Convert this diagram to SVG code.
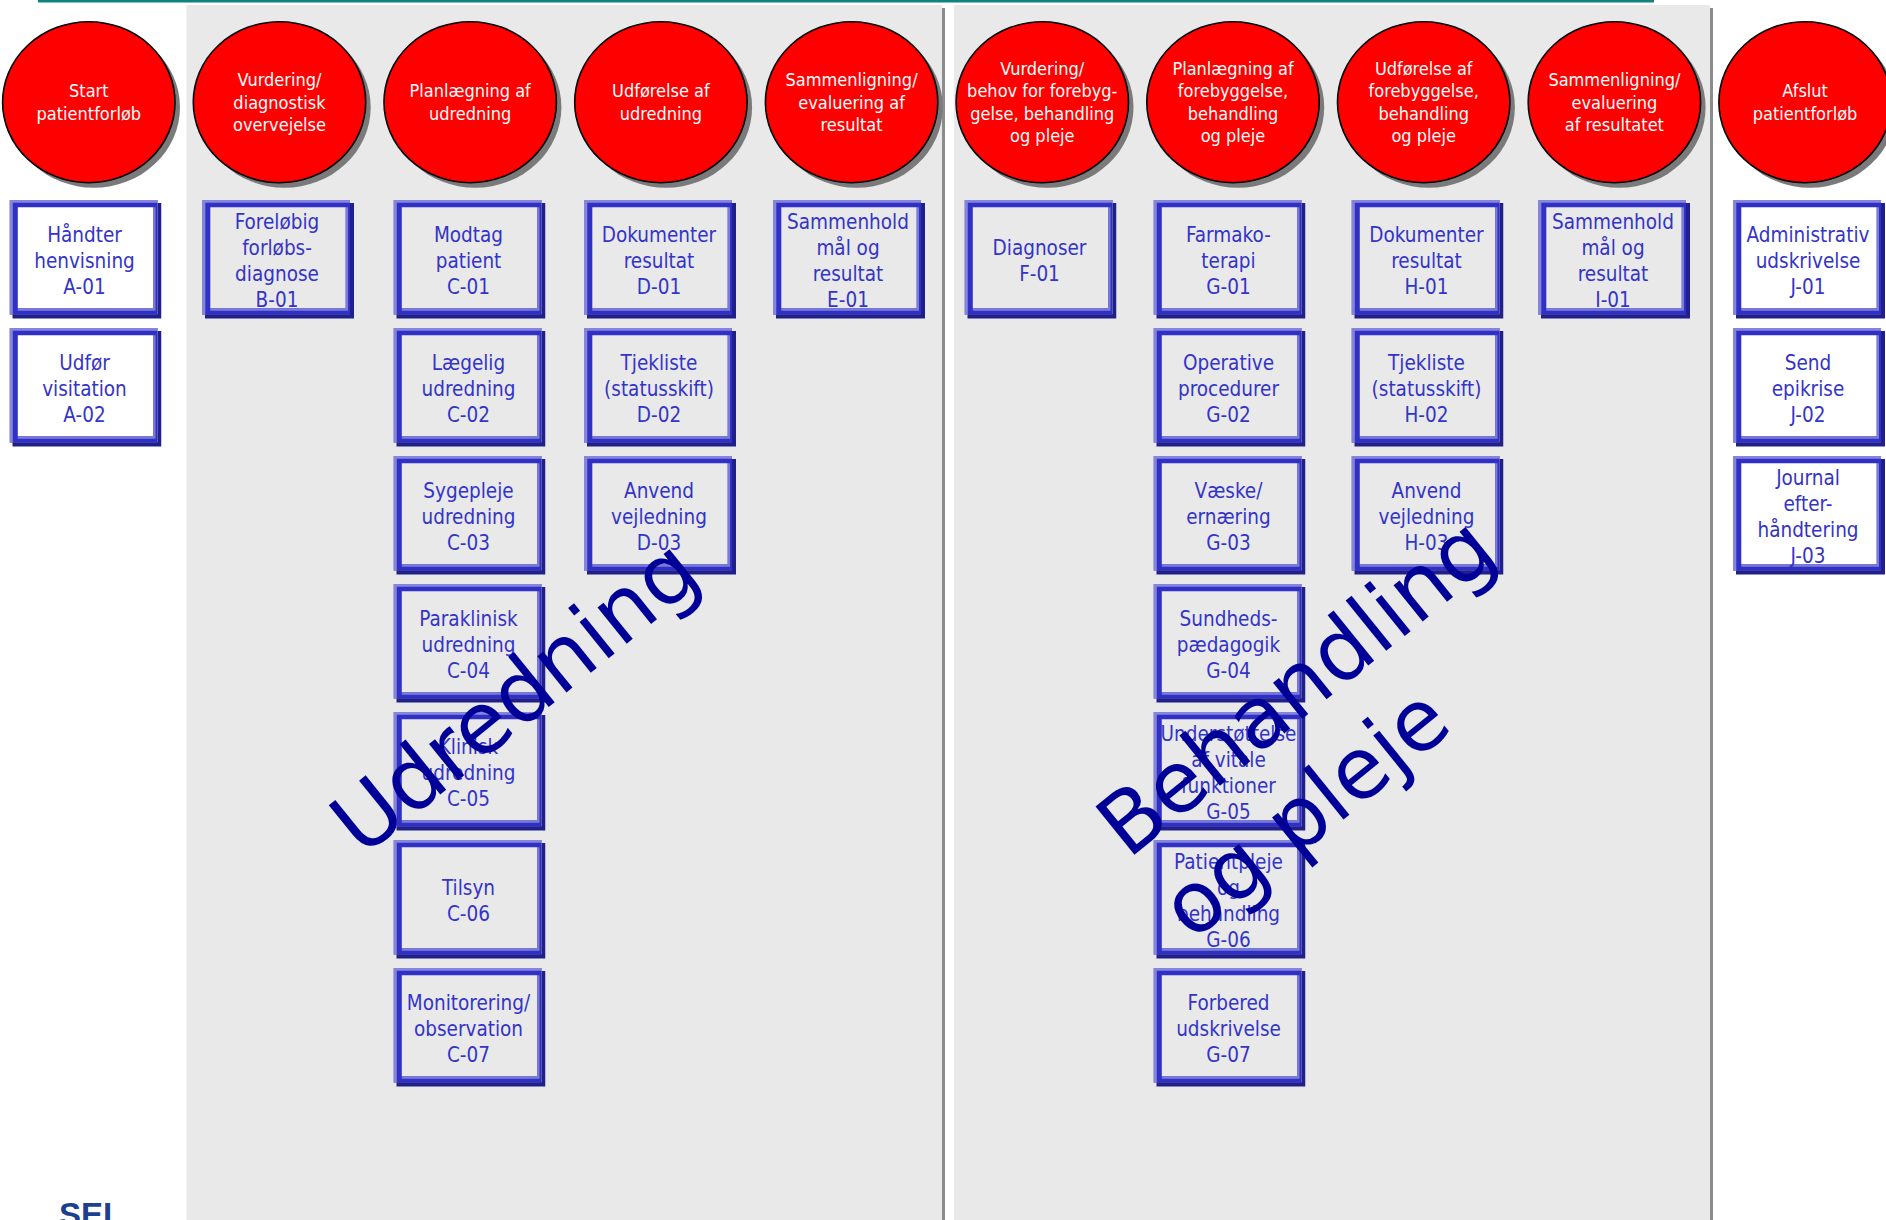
<svg xmlns="http://www.w3.org/2000/svg" xmlns:xlink="http://www.w3.org/1999/xlink" width="1886" height="1220" viewBox="0 0 1886 1220">
<style>
.panel{fill:#e9e9e9}
.pshadow{fill:#8c8c8c}
.circ{fill:#ff0000;stroke:#000;stroke-width:1.6}
.cshadow{fill:#7a7a7a}
.ct{font-family:"DejaVu Sans Condensed","Liberation Sans",sans-serif;font-size:18px;fill:#fff;text-anchor:middle}
.bt{font-family:"DejaVu Sans Condensed","Liberation Sans",sans-serif;font-size:20.5px;fill:#3434c8;text-anchor:middle}
.big{font-family:"DejaVu Sans",sans-serif;font-size:85px;fill:#000099}
.sei{font-family:"Liberation Sans",Arial,sans-serif;font-weight:bold;font-size:33px;fill:#1c3f8f}
</style>
<defs>
<symbol id="frame" viewBox="0 0 152 119" width="152" height="119">
<path d="M0,0H148V114.5H0Z M8.3,7.3V108.3H143.7V7.3Z" fill="#3030c6" fill-rule="evenodd"/>
<path d="M148,3H152V118.5H3V114.3H148Z" fill="#20208c"/>
<path d="M0,0H148V2.7H3.3V114.5H0Z" fill="#8585da"/>
<path d="M143.7,7.3H146V110.7H8.3V108.3H143.7Z" fill="#7c7cd8"/>
</symbol>
</defs>
<rect width="1886" height="1220" fill="#fff"/>
<rect x="38" y="0" width="1616" height="2.5" fill="#11837f"/>
<g id="panel-udredning">
<rect class="pshadow" x="189.5" y="8" width="755.5" height="1230"/>
<rect class="panel" x="186.5" y="5" width="755.5" height="1230"/>
</g>
<g id="panel-behandling">
<rect class="pshadow" x="957" y="8" width="756" height="1230"/>
<rect class="panel" x="954" y="5" width="756" height="1230"/>
</g>
<g id="connectors"></g>

<g id="phase-1">
<ellipse class="cshadow" cx="93.8" cy="107.2" rx="86.2" ry="80.5"/>
<ellipse class="circ" cx="88.8" cy="102.2" rx="86.2" ry="80.5"/>
<text class="ct"><tspan x="88.8" y="97.45">Start</tspan><tspan x="88.8" y="119.95">patientforløb</tspan></text>
</g>
<g id="phase-2">
<ellipse class="cshadow" cx="284.5" cy="107.2" rx="86.2" ry="80.5"/>
<ellipse class="circ" cx="279.5" cy="102.2" rx="86.2" ry="80.5"/>
<text class="ct"><tspan x="279.5" y="86.2">Vurdering/</tspan><tspan x="279.5" y="108.7">diagnostisk</tspan><tspan x="279.5" y="131.2">overvejelse</tspan></text>
</g>
<g id="phase-3">
<ellipse class="cshadow" cx="475.2" cy="107.2" rx="86.2" ry="80.5"/>
<ellipse class="circ" cx="470.2" cy="102.2" rx="86.2" ry="80.5"/>
<text class="ct"><tspan x="470.2" y="97.45">Planlægning af</tspan><tspan x="470.2" y="119.95">udredning</tspan></text>
</g>
<g id="phase-4">
<ellipse class="cshadow" cx="665.9" cy="107.2" rx="86.2" ry="80.5"/>
<ellipse class="circ" cx="660.9" cy="102.2" rx="86.2" ry="80.5"/>
<text class="ct"><tspan x="660.9" y="97.45">Udførelse af</tspan><tspan x="660.9" y="119.95">udredning</tspan></text>
</g>
<g id="phase-5">
<ellipse class="cshadow" cx="856.6" cy="107.2" rx="86.2" ry="80.5"/>
<ellipse class="circ" cx="851.6" cy="102.2" rx="86.2" ry="80.5"/>
<text class="ct"><tspan x="851.6" y="86.2">Sammenligning/</tspan><tspan x="851.6" y="108.7">evaluering af</tspan><tspan x="851.6" y="131.2">resultat</tspan></text>
</g>
<g id="phase-6">
<ellipse class="cshadow" cx="1047.3" cy="107.2" rx="86.2" ry="80.5"/>
<ellipse class="circ" cx="1042.3" cy="102.2" rx="86.2" ry="80.5"/>
<text class="ct"><tspan x="1042.3" y="74.95">Vurdering/</tspan><tspan x="1042.3" y="97.45">behov for forebyg-</tspan><tspan x="1042.3" y="119.95">gelse, behandling</tspan><tspan x="1042.3" y="142.45">og pleje</tspan></text>
</g>
<g id="phase-7">
<ellipse class="cshadow" cx="1238" cy="107.2" rx="86.2" ry="80.5"/>
<ellipse class="circ" cx="1233" cy="102.2" rx="86.2" ry="80.5"/>
<text class="ct"><tspan x="1233" y="74.95">Planlægning af</tspan><tspan x="1233" y="97.45">forebyggelse,</tspan><tspan x="1233" y="119.95">behandling</tspan><tspan x="1233" y="142.45">og pleje</tspan></text>
</g>
<g id="phase-8">
<ellipse class="cshadow" cx="1428.7" cy="107.2" rx="86.2" ry="80.5"/>
<ellipse class="circ" cx="1423.7" cy="102.2" rx="86.2" ry="80.5"/>
<text class="ct"><tspan x="1423.7" y="74.95">Udførelse af</tspan><tspan x="1423.7" y="97.45">forebyggelse,</tspan><tspan x="1423.7" y="119.95">behandling</tspan><tspan x="1423.7" y="142.45">og pleje</tspan></text>
</g>
<g id="phase-9">
<ellipse class="cshadow" cx="1619.4" cy="107.2" rx="86.2" ry="80.5"/>
<ellipse class="circ" cx="1614.4" cy="102.2" rx="86.2" ry="80.5"/>
<text class="ct"><tspan x="1614.4" y="86.2">Sammenligning/</tspan><tspan x="1614.4" y="108.7">evaluering</tspan><tspan x="1614.4" y="131.2">af resultatet</tspan></text>
</g>
<g id="phase-10">
<ellipse class="cshadow" cx="1810.1" cy="107.2" rx="86.2" ry="80.5"/>
<ellipse class="circ" cx="1805.1" cy="102.2" rx="86.2" ry="80.5"/>
<text class="ct"><tspan x="1805.1" y="97.45">Afslut</tspan><tspan x="1805.1" y="119.95">patientforløb</tspan></text>
</g>

<g id="A-01"><use xlink:href="#frame" x="9.5" y="200"/><text class="bt"><tspan x="84.5" y="242.3">Håndter</tspan><tspan x="84.5" y="268">henvisning</tspan><tspan x="84.5" y="293.7">A-01</tspan></text></g>
<g id="A-02"><use xlink:href="#frame" x="9.5" y="328"/><text class="bt"><tspan x="84.5" y="370.3">Udfør</tspan><tspan x="84.5" y="396">visitation</tspan><tspan x="84.5" y="421.7">A-02</tspan></text></g>
<g id="B-01"><use xlink:href="#frame" x="202" y="200"/><text class="bt"><tspan x="277" y="229.45">Foreløbig</tspan><tspan x="277" y="255.15">forløbs-</tspan><tspan x="277" y="280.85">diagnose</tspan><tspan x="277" y="306.55">B-01</tspan></text></g>

<g id="C-01"><use xlink:href="#frame" x="393.5" y="200"/><text class="bt"><tspan x="468.5" y="242.3">Modtag</tspan><tspan x="468.5" y="268">patient</tspan><tspan x="468.5" y="293.7">C-01</tspan></text></g>
<g id="C-02"><use xlink:href="#frame" x="393.5" y="328"/><text class="bt"><tspan x="468.5" y="370.3">Lægelig</tspan><tspan x="468.5" y="396">udredning</tspan><tspan x="468.5" y="421.7">C-02</tspan></text></g>
<g id="C-03"><use xlink:href="#frame" x="393.5" y="456"/><text class="bt"><tspan x="468.5" y="498.3">Sygepleje</tspan><tspan x="468.5" y="524">udredning</tspan><tspan x="468.5" y="549.7">C-03</tspan></text></g>
<g id="C-04"><use xlink:href="#frame" x="393.5" y="584"/><text class="bt"><tspan x="468.5" y="626.3">Paraklinisk</tspan><tspan x="468.5" y="652">udredning</tspan><tspan x="468.5" y="677.7">C-04</tspan></text></g>
<g id="C-05"><use xlink:href="#frame" x="393.5" y="712"/><text class="bt"><tspan x="468.5" y="754.3">Klinisk</tspan><tspan x="468.5" y="780">udredning</tspan><tspan x="468.5" y="805.7">C-05</tspan></text></g>
<g id="C-06"><use xlink:href="#frame" x="393.5" y="840"/><text class="bt"><tspan x="468.5" y="895.15">Tilsyn</tspan><tspan x="468.5" y="920.85">C-06</tspan></text></g>
<g id="C-07"><use xlink:href="#frame" x="393.5" y="968"/><text class="bt"><tspan x="468.5" y="1010.3">Monitorering/</tspan><tspan x="468.5" y="1036">observation</tspan><tspan x="468.5" y="1061.7">C-07</tspan></text></g>

<g id="D-01"><use xlink:href="#frame" x="584" y="200"/><text class="bt"><tspan x="659" y="242.3">Dokumenter</tspan><tspan x="659" y="268">resultat</tspan><tspan x="659" y="293.7">D-01</tspan></text></g>
<g id="D-02"><use xlink:href="#frame" x="584" y="328"/><text class="bt"><tspan x="659" y="370.3">Tjekliste</tspan><tspan x="659" y="396">(statusskift)</tspan><tspan x="659" y="421.7">D-02</tspan></text></g>
<g id="D-03"><use xlink:href="#frame" x="584" y="456"/><text class="bt"><tspan x="659" y="498.3">Anvend</tspan><tspan x="659" y="524">vejledning</tspan><tspan x="659" y="549.7">D-03</tspan></text></g>

<g id="E-01"><use xlink:href="#frame" x="773" y="200"/><text class="bt"><tspan x="848" y="229.45">Sammenhold</tspan><tspan x="848" y="255.15">mål og</tspan><tspan x="848" y="280.85">resultat</tspan><tspan x="848" y="306.55">E-01</tspan></text></g>

<g id="F-01"><use xlink:href="#frame" x="964.5" y="200"/><text class="bt"><tspan x="1039.5" y="255.15">Diagnoser</tspan><tspan x="1039.5" y="280.85">F-01</tspan></text></g>

<g id="G-01"><use xlink:href="#frame" x="1153.5" y="200"/><text class="bt"><tspan x="1228.5" y="242.3">Farmako-</tspan><tspan x="1228.5" y="268">terapi</tspan><tspan x="1228.5" y="293.7">G-01</tspan></text></g>
<g id="G-02"><use xlink:href="#frame" x="1153.5" y="328"/><text class="bt"><tspan x="1228.5" y="370.3">Operative</tspan><tspan x="1228.5" y="396">procedurer</tspan><tspan x="1228.5" y="421.7">G-02</tspan></text></g>
<g id="G-03"><use xlink:href="#frame" x="1153.5" y="456"/><text class="bt"><tspan x="1228.5" y="498.3">Væske/</tspan><tspan x="1228.5" y="524">ernæring</tspan><tspan x="1228.5" y="549.7">G-03</tspan></text></g>
<g id="G-04"><use xlink:href="#frame" x="1153.5" y="584"/><text class="bt"><tspan x="1228.5" y="626.3">Sundheds-</tspan><tspan x="1228.5" y="652">pædagogik</tspan><tspan x="1228.5" y="677.7">G-04</tspan></text></g>
<g id="G-05"><use xlink:href="#frame" x="1153.5" y="712"/><text class="bt"><tspan x="1228.5" y="741.45">Understøttelse</tspan><tspan x="1228.5" y="767.15">af vitale</tspan><tspan x="1228.5" y="792.85">funktioner</tspan><tspan x="1228.5" y="818.55">G-05</tspan></text></g>
<g id="G-06"><use xlink:href="#frame" x="1153.5" y="840"/><text class="bt"><tspan x="1228.5" y="869.45">Patientpleje</tspan><tspan x="1228.5" y="895.15">og</tspan><tspan x="1228.5" y="920.85">behandling</tspan><tspan x="1228.5" y="946.55">G-06</tspan></text></g>
<g id="G-07"><use xlink:href="#frame" x="1153.5" y="968"/><text class="bt"><tspan x="1228.5" y="1010.3">Forbered</tspan><tspan x="1228.5" y="1036">udskrivelse</tspan><tspan x="1228.5" y="1061.7">G-07</tspan></text></g>

<g id="H-01"><use xlink:href="#frame" x="1351.5" y="200"/><text class="bt"><tspan x="1426.5" y="242.3">Dokumenter</tspan><tspan x="1426.5" y="268">resultat</tspan><tspan x="1426.5" y="293.7">H-01</tspan></text></g>
<g id="H-02"><use xlink:href="#frame" x="1351.5" y="328"/><text class="bt"><tspan x="1426.5" y="370.3">Tjekliste</tspan><tspan x="1426.5" y="396">(statusskift)</tspan><tspan x="1426.5" y="421.7">H-02</tspan></text></g>
<g id="H-03"><use xlink:href="#frame" x="1351.5" y="456"/><text class="bt"><tspan x="1426.5" y="498.3">Anvend</tspan><tspan x="1426.5" y="524">vejledning</tspan><tspan x="1426.5" y="549.7">H-03</tspan></text></g>

<g id="I-01"><use xlink:href="#frame" x="1538" y="200"/><text class="bt"><tspan x="1613" y="229.45">Sammenhold</tspan><tspan x="1613" y="255.15">mål og</tspan><tspan x="1613" y="280.85">resultat</tspan><tspan x="1613" y="306.55">I-01</tspan></text></g>

<g id="J-01"><use xlink:href="#frame" x="1733" y="200"/><text class="bt"><tspan x="1808" y="242.3">Administrativ</tspan><tspan x="1808" y="268">udskrivelse</tspan><tspan x="1808" y="293.7">J-01</tspan></text></g>
<g id="J-02"><use xlink:href="#frame" x="1733" y="328"/><text class="bt"><tspan x="1808" y="370.3">Send</tspan><tspan x="1808" y="396">epikrise</tspan><tspan x="1808" y="421.7">J-02</tspan></text></g>
<g id="J-03"><use xlink:href="#frame" x="1733" y="456"/><text class="bt"><tspan x="1808" y="485.45">Journal</tspan><tspan x="1808" y="511.15">efter-</tspan><tspan x="1808" y="536.85">håndtering</tspan><tspan x="1808" y="562.55">J-03</tspan></text></g>

<g id="label-udredning">
<text class="big" transform="translate(362,858) rotate(-39)">Udredning</text>
</g>
<g id="label-behandling">
<text class="big" transform="translate(1128,860) rotate(-39)"><tspan x="0" y="0">Behandling</tspan><tspan x="-2" y="104">og pleje</tspan></text>
</g>
<text class="sei" x="59" y="1225.5">SEI</text>
</svg>
